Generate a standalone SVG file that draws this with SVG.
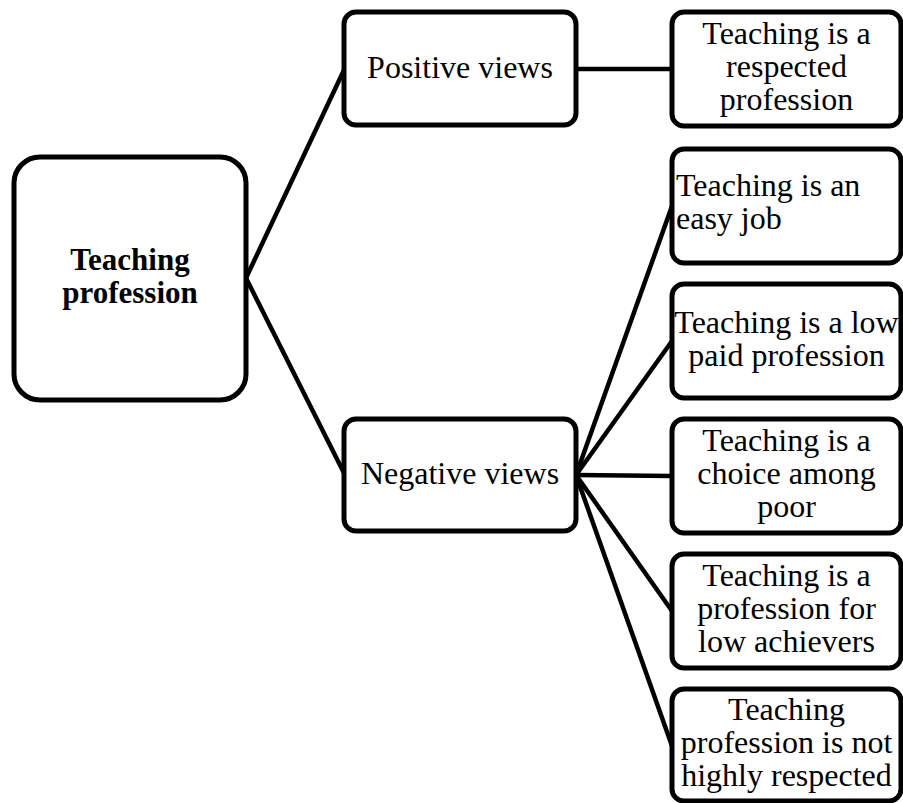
<svg xmlns="http://www.w3.org/2000/svg" width="903" height="803" viewBox="0 0 903 803">
  <style>
    .box { fill: #ffffff; stroke: #000000; stroke-width: 5; }
    .link { stroke: #000000; stroke-width: 4.5; fill: none; }
    text { font-size: 32px; fill: #000000; }
    .c { text-anchor: middle; }
    .b { font-weight: bold; font-size: 31px; }
  </style>
  <rect width="903" height="803" fill="#ffffff"/>

  <!-- connectors -->
  <g id="connectors">
    <line class="link" x1="246" y1="278" x2="344" y2="70"/>
    <line class="link" x1="246" y1="278" x2="344" y2="473"/>
    <line class="link" x1="576" y1="69" x2="672" y2="69"/>
    <line class="link" x1="576" y1="475" x2="672" y2="206"/>
    <line class="link" x1="576" y1="475" x2="672" y2="341"/>
    <line class="link" x1="576" y1="475" x2="672" y2="476"/>
    <line class="link" x1="576" y1="475" x2="672" y2="611"/>
    <line class="link" x1="576" y1="475" x2="672" y2="746"/>
  </g>

  <g font-family="'Liberation Serif', Tinos, 'Times New Roman', Times, serif">
    <!-- root -->
    <g id="root">
      <rect class="box" x="14" y="157" width="232" height="243" rx="26"/>
      <text class="c b" x="130" y="270">Teaching</text>
      <text class="c b" x="130" y="303">profession</text>
    </g>

    <!-- second level -->
    <g id="positive">
      <rect class="box" x="344" y="12" width="232" height="113" rx="12"/>
      <text class="c" x="460" y="78">Positive views</text>
    </g>
    <g id="negative">
      <rect class="box" x="344" y="419" width="232" height="112" rx="12"/>
      <text class="c" x="460" y="484">Negative views</text>
    </g>

    <!-- leaves -->
    <g id="respected">
      <rect class="box" x="672" y="12" width="229" height="114" rx="12"/>
      <text class="c" x="786.5" y="44">Teaching is a</text>
      <text class="c" x="786.5" y="77">respected</text>
      <text class="c" x="786.5" y="110">profession</text>
    </g>
    <g id="easy">
      <rect class="box" x="672" y="149" width="229" height="114" rx="12"/>
      <text x="676" y="196">Teaching is an</text>
      <text x="676" y="229">easy job</text>
    </g>
    <g id="lowpaid">
      <rect class="box" x="672" y="284" width="229" height="114" rx="12"/>
      <text class="c" x="786.5" y="333">Teaching is a low</text>
      <text class="c" x="786.5" y="366">paid profession</text>
    </g>
    <g id="poor">
      <rect class="box" x="672" y="419" width="229" height="114" rx="12"/>
      <text class="c" x="786.5" y="451">Teaching is a</text>
      <text class="c" x="786.5" y="484">choice among</text>
      <text class="c" x="786.5" y="517">poor</text>
    </g>
    <g id="achievers">
      <rect class="box" x="672" y="554" width="229" height="114" rx="12"/>
      <text class="c" x="786.5" y="586">Teaching is a</text>
      <text class="c" x="786.5" y="619">profession for</text>
      <text class="c" x="786.5" y="652">low achievers</text>
    </g>
    <g id="notrespected">
      <rect class="box" x="672" y="689" width="229" height="112" rx="12"/>
      <text class="c" x="786.5" y="720">Teaching</text>
      <text class="c" x="786.5" y="753">profession is not</text>
      <text class="c" x="786.5" y="786">highly respected</text>
    </g>
  </g>
</svg>
